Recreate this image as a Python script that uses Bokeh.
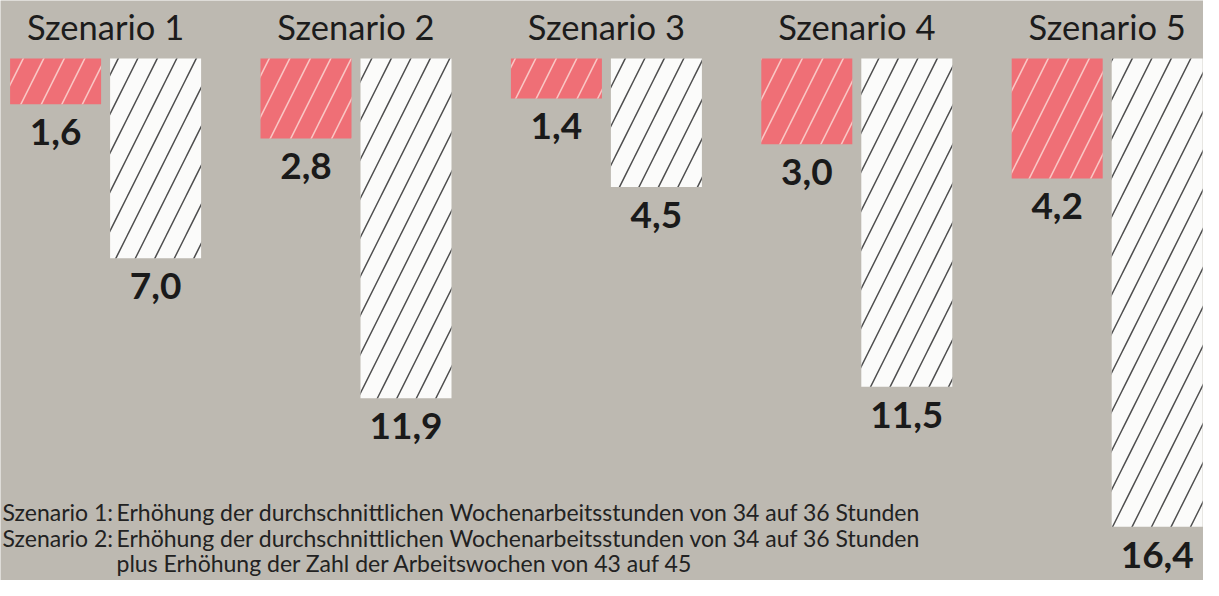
from bokeh.plotting import figure
from bokeh.models import ColumnDataSource, Range1d, Label
from bokeh.transform import dodge
from bokeh.core.properties import value
from bokeh.embed import file_html
from bokeh.resources import INLINE

# ---- data ----
scenarios = ["Szenario 1", "Szenario 2", "Szenario 3", "Szenario 4", "Szenario 5"]
red_values = [1.6, 2.8, 1.4, 3.0, 4.2]
white_values = [7.0, 11.9, 4.5, 11.5, 16.4]
footnote_prefixes = ["Szenario 1:", "Szenario 2:", ""]
footnote_texts = [
    "Erhöhung der durchschnittlichen Wochenarbeitsstunden von 34 auf 36 Stunden",
    "Erhöhung der durchschnittlichen Wochenarbeitsstunden von 34 auf 36 Stunden",
    "plus Erhöhung der Zahl der Arbeitswochen von 43 auf 45",
]

def fmt(v):
    return f"{v:.1f}".replace(".", ",")

idx = list(range(len(scenarios)))
src = ColumnDataSource(dict(
    idx=idx,
    name=scenarios,
    red=[-v for v in red_values],
    white=[-v for v in white_values],
    red_lbl=[fmt(v) for v in red_values],
    white_lbl=[fmt(v) for v in white_values],
    zero=[0] * len(idx),
))

W, H = 1203, 580
BG = "#bdb9b1"
PX_X = 250.4      # px per group
PX_Y = 28.55      # px per unit
TOP_PX = 58.0     # value 0 in px from top
x0 = -105.1 / PX_X
y_top = TOP_PX / PX_Y

p = figure(width=W, height=H, output_backend="svg", toolbar_location=None,
           x_range=Range1d(x0, x0 + W / PX_X),
           y_range=Range1d(y_top - H / PX_Y, y_top),
           min_border=0, background_fill_color=BG, border_fill_color=BG,
           outline_line_color=None)
p.axis.visible = False
p.grid.visible = False

off = 50.0 / PX_X
bw = 91 / PX_X

p.vbar(x=dodge("idx", -off), top="zero", bottom="red", width=bw, source=src,
       fill_color="#ef6f76", line_color=None,
       hatch_pattern="/", hatch_color="#f9c6c4", hatch_scale=41, hatch_weight=1.6)
p.vbar(x=dodge("idx", off), top="zero", bottom="white", width=bw, source=src,
       fill_color="#fbfbfa", line_color=None,
       hatch_pattern="/", hatch_color="#4f4f4f", hatch_scale=39, hatch_weight=1.5)

# titles
p.text(x="idx", y=(TOP_PX - 26) / PX_Y, text="name", source=src, text_align="center",
       text_baseline="alphabetic", text_font=value("Lato"), text_font_size="34.5px",
       text_color="#1c1c1c")

# value labels
for xs, ys, ls in ((-off, "red", "red_lbl"), (off, "white", "white_lbl")):
    p.text(x=dodge("idx", xs), y=ys, text=ls, source=src, y_offset=28,
           text_align="center", text_baseline="alphabetic", text_font=value("Lato"),
           text_font_style="bold", text_font_size="37px", text_color="#1a1a1a")

# footnotes
baselines = [511, 537, 562]
for pre, txt, b in zip(footnote_prefixes, footnote_texts, baselines):
    yb = H - b
    if pre:
        p.add_layout(Label(x=2, y=yb, x_units="screen", y_units="screen", text=pre,
                           text_align="left", text_baseline="alphabetic",
                           text_font="Lato", text_font_size="23px", text_color="#222222"))
    p.add_layout(Label(x=116, y=yb, x_units="screen", y_units="screen", text=txt,
                       text_align="left", text_baseline="alphabetic",
                       text_font="Lato", text_font_size="23px", text_color="#222222"))

open("out.html", "w").write(file_html(p, INLINE))
